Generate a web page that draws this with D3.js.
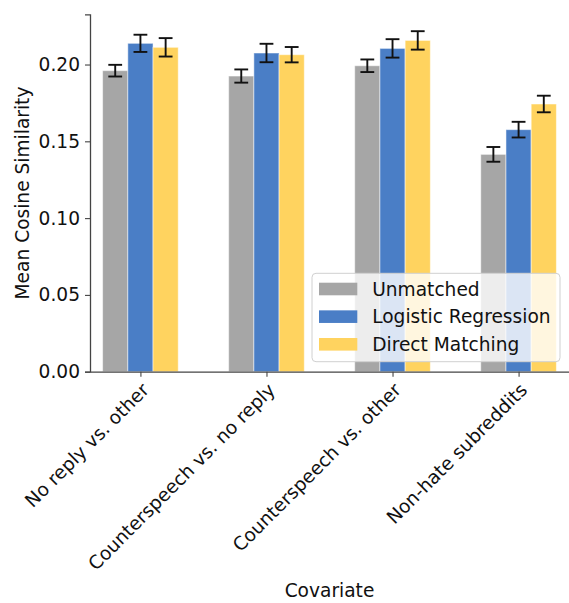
<!DOCTYPE html>
<html>
<head>
<meta charset="utf-8">
<script src="https://cdn.jsdelivr.net/npm/d3@7"></script>
<style>
  html, body { margin: 0; padding: 0; background: #fff; }
  svg { display: block; font-family: "DejaVu Sans", sans-serif; }
</style>
</head>
<body>
<svg id="chart" width="569" height="603"></svg>
<script>
const categories = ["No reply vs. other", "Counterspeech vs. no reply", "Counterspeech vs. other", "Non-hate subreddits"];
const seriesNames = ["Unmatched", "Logistic Regression", "Direct Matching"];
const unmatched = [0.1960, 0.1925, 0.1992, 0.1415];
const unmatchedErr = [0.0038, 0.0043, 0.0041, 0.0048];
const logistic = [0.2138, 0.2075, 0.2105, 0.1576];
const logisticErr = [0.0056, 0.0060, 0.0060, 0.0051];
const direct = [0.2112, 0.2064, 0.2157, 0.1743];
const directErr = [0.0060, 0.0050, 0.0060, 0.0054];
const yTicks = [0.00, 0.05, 0.10, 0.15, 0.20];
const colors = ["#a6a6a6", "#4a7ec6", "#ffd35f"];

const series = [
  { name: seriesNames[0], values: unmatched, errs: unmatchedErr, color: colors[0] },
  { name: seriesNames[1], values: logistic, errs: logisticErr, color: colors[1] },
  { name: seriesNames[2], values: direct, errs: directErr, color: colors[2] }
];

const svg = d3.select("#chart");
const mLeft = 90, mRight = 569, mTop = 14.3, mBottom = 371.7;
const barW = 0.2;
const x = d3.scaleLinear().domain([-0.4, 3.4]).range([mLeft, mRight]);
const y = d3.scaleLinear().domain([0, 0.2327]).range([mBottom, mTop]);
const fs = 18.6;

// bars
series.forEach((s, si) => {
  const off = (si - 1) * barW;
  const g = svg.append("g");
  g.selectAll("rect").data(s.values).enter().append("rect")
    .attr("x", (d, i) => x(i + off - barW / 2))
    .attr("width", x(barW) - x(0))
    .attr("y", d => y(d))
    .attr("height", d => y(0) - y(d))
    .attr("fill", s.color)
    .attr("stroke", "#ffffff")
    .attr("stroke-opacity", 0.5)
    .attr("stroke-width", 1);
});

// error bars
series.forEach((s, si) => {
  const off = (si - 1) * barW;
  const g = svg.append("g").attr("stroke", "#111").attr("stroke-width", 1.9);
  s.values.forEach((v, i) => {
    const cx = x(i + off);
    const y1 = y(v - s.errs[i]), y2 = y(v + s.errs[i]);
    g.append("line").attr("x1", cx).attr("x2", cx).attr("y1", y1).attr("y2", y2);
    g.append("line").attr("x1", cx - 6.9).attr("x2", cx + 6.9).attr("y1", y1).attr("y2", y1);
    g.append("line").attr("x1", cx - 6.9).attr("x2", cx + 6.9).attr("y1", y2).attr("y2", y2);
  });
});

// y axis
const yAxis = d3.axisLeft(y).tickValues(yTicks).tickFormat(d3.format(".2f")).tickSize(5).tickPadding(5);
const yg = svg.append("g").attr("transform", `translate(${mLeft},0)`).call(yAxis);
yg.select(".domain").attr("stroke", "#444").attr("stroke-width", 1.3);
yg.selectAll(".tick line").attr("stroke", "#444").attr("stroke-width", 1.1);
yg.selectAll(".tick text").attr("font-size", fs).attr("font-family", "DejaVu Sans").attr("fill", "#111");

// x axis
const xAxis = d3.axisBottom(x).tickValues(d3.range(categories.length)).tickFormat(() => "").tickSize(5).tickSizeOuter(0);
const xg = svg.append("g").attr("transform", `translate(0,${mBottom})`).call(xAxis);
xg.select(".domain").attr("stroke", "#444").attr("stroke-width", 1.3);
xg.selectAll(".tick line").attr("stroke", "#444").attr("stroke-width", 1.1);

// rotated category labels
svg.append("g").selectAll("text").data(categories).enter().append("text")
  .attr("text-anchor", "end")
  .attr("font-size", fs)
  .attr("fill", "#111")
  .attr("transform", (d, i) => `translate(${x(i) + 9.7},${391.2}) rotate(-45)`)
  .text(d => d);

// axis titles
svg.append("text").attr("x", (mLeft + mRight) / 2).attr("y", 597)
  .attr("text-anchor", "middle").attr("font-size", fs).attr("fill", "#111").text("Covariate");
svg.append("text").attr("transform", `translate(29,${(mTop + mBottom) / 2}) rotate(-90)`)
  .attr("text-anchor", "middle").attr("font-size", fs).attr("fill", "#111").text("Mean Cosine Similarity");

// legend
const lg = svg.append("g");
lg.append("rect").attr("x", 312).attr("y", 273.3).attr("width", 248).attr("height", 88.4)
  .attr("rx", 4).attr("fill", "#ffffff").attr("fill-opacity", 0.8)
  .attr("stroke", "#d0d0d0").attr("stroke-width", 1);
series.forEach((s, si) => {
  const cy = 289 + si * 27.65;
  lg.append("rect").attr("x", 319).attr("y", cy - 6.3).attr("width", 38.3).attr("height", 12.6)
    .attr("fill", s.color);
  lg.append("text").attr("x", 372.2).attr("y", cy + 6.6).attr("font-size", fs).attr("fill", "#111").text(s.name);
});
</script>
</body>
</html>
